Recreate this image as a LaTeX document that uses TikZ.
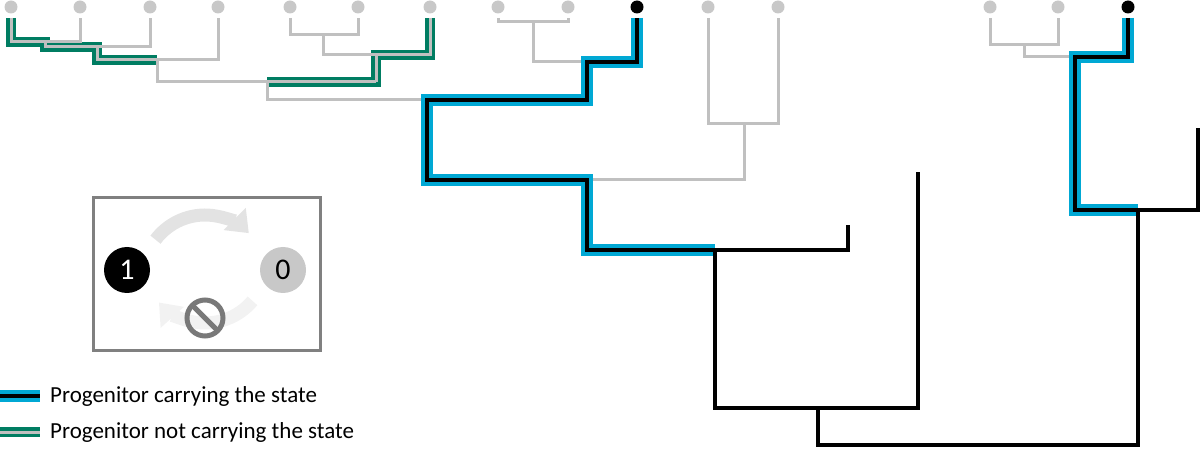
\documentclass[tikz,border=0pt]{standalone}
\usepackage{fontspec}
\setmainfont{Carlito}
\usetikzlibrary{arrows.meta}
\definecolor{gr}{RGB}{192,192,192}
\definecolor{dotg}{RGB}{200,200,200}
\definecolor{grn}{RGB}{0,125,98}
\definecolor{blu}{RGB}{0,168,212}
\tikzset{
 gl/.style={line width=3pt,draw=gr},
 gn/.style={line width=10pt,draw=grn,line join=miter},
 bl/.style={line width=12pt,draw=blu,line join=miter},
 bk/.style={line width=3.5pt,draw=black,line join=miter},
 leaf/.style={circle,fill=dotg,inner sep=0pt,minimum size=13pt},
 bleaf/.style={circle,fill=black,inner sep=0pt,minimum size=13pt},
 lab/.style={anchor=west,font=\fontsize{23}{26}\selectfont,inner sep=0pt},
 bigarr/.style={line width=13pt,-{Triangle[length=20pt,width=30pt]}},
}
\begin{document}
\begin{tikzpicture}[x=1pt,y=1pt]
\useasboundingbox (0,0) rectangle (1200,-449);
% green highlight
\draw[gn] (11,-18)--(11,-42)--(45,-42)--(45,-47)--(97,-47)--(97,-60)--(157,-60);
\draw[gn] (430,-18)--(430,-55)--(376,-55)--(376,-82)--(267,-82);
% gray tree
\draw[gl] (11,-18)--(11,-42)--(80,-42)--(80,-18);
\draw[gl] (45,-42)--(45,-47)--(150,-47)--(150,-18);
\draw[gl] (97,-47)--(97,-60)--(218,-60)--(218,-18);
\draw[gl] (157,-60)--(157,-82)--(376,-82);
\draw[gl] (290,-18)--(290,-35)--(358,-35)--(358,-18);
\draw[gl] (323,-35)--(323,-55)--(430,-55)--(430,-18);
\draw[gl] (376,-55)--(376,-82);
\draw[gl] (267,-82)--(267,-100)--(427,-100);
\draw[gl] (498,-18)--(498,-22)--(568,-22)--(568,-18);
\draw[gl] (533,-22)--(533,-62)--(587,-62);
\draw[gl] (708,-18)--(708,-124)--(778,-124)--(778,-18);
\draw[gl] (744,-124)--(744,-180)--(587,-180);
\draw[gl] (990,-18)--(990,-45)--(1058,-45)--(1058,-18);
\draw[gl] (1024,-45)--(1024,-57)--(1075,-57);
% blue highlight
\draw[bl] (637,-18)--(637,-62)--(587,-62)--(587,-100)--(427,-100)--(427,-180)--(587,-180)--(587,-250)--(715,-250);
\draw[bl] (1128,-18)--(1128,-57)--(1075,-57)--(1075,-210)--(1138,-210);
% black tree
\draw[bk] (637,-18)--(637,-62)--(587,-62)--(587,-100)--(427,-100)--(427,-180)--(587,-180)--(587,-250)--(715,-250);
\draw[bk] (1128,-18)--(1128,-57)--(1075,-57)--(1075,-210)--(1138,-210);
\draw[bk] (715,-250)--(848,-250)--(848,-225);
\draw[bk] (715,-250)--(715,-408)--(918,-408)--(918,-172);
\draw[bk] (818,-408)--(818,-445)--(1138,-445)--(1138,-210);
\draw[bk] (1138,-210)--(1198,-210)--(1198,-128);
% leaves
\foreach \x [count=\i] in {11,80,150,218,290,358,430,498,568,708,778,990,1058}
  \node[leaf] (l\i) at (\x,-7) {};
\node[bleaf] (b1) at (637,-7) {};
\node[bleaf] (b2) at (1128,-7) {};
% inset box
\draw[line width=3pt,draw=gray] (93,-198) rectangle (320,-350);
\draw[bigarr,draw=gray!22] ([shift={(143:62)}]205,-277) arc (143:45:62);
\draw[bigarr,draw=gray!10] ([shift={(-40:62)}]205,-261) arc (-40:-138:62);
\node[circle,fill=black,minimum size=46pt,inner sep=0pt,text=white,font=\fontsize{30}{30}\selectfont] (one) at (127,-270) {1};
\node[circle,fill=dotg,minimum size=46pt,inner sep=0pt,font=\fontsize{30}{30}\selectfont] (zero) at (283,-270) {0};
\draw[line width=5pt,draw=gray!95!black] (205,-318) circle (18);
\draw[line width=5pt,draw=gray!95!black] ([shift={(-45:18)}]205,-318) -- ([shift={(135:18)}]205,-318);
% legend
\draw[line width=12pt,draw=blu] (0,-396)--(40,-396);
\draw[line width=3.5pt] (0,-396)--(40,-396);
\draw[line width=10pt,draw=grn] (0,-432)--(40,-432);
\draw[line width=3pt,draw=gr] (0,-432)--(40,-432);
\node[lab] (t1) at (50,-396) {Progenitor carrying the state};
\node[lab] (t2) at (50,-432) {Progenitor not carrying the state};
\end{tikzpicture}
\end{document}
